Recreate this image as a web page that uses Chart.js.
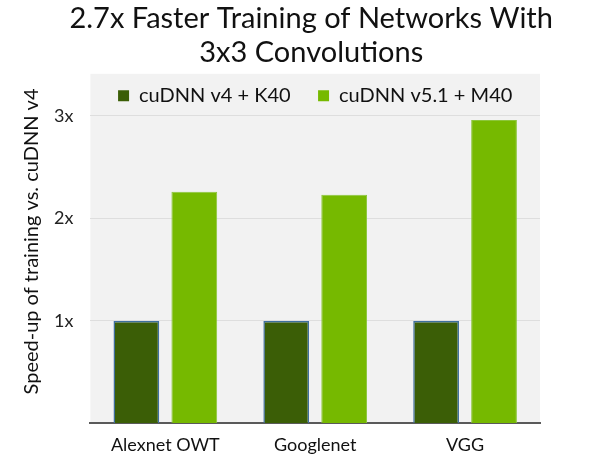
<!DOCTYPE html>
<html>
<head>
<meta charset="utf-8">
<script src="https://cdn.jsdelivr.net/npm/chart.js@4"></script>
<style>
  html, body { margin: 0; padding: 0; background: #fff; }
  #wrap { width: 600px; height: 464px; }
</style>
</head>
<body>
<div id="wrap"><canvas id="speedChart" width="600" height="464"></canvas></div>
<script>
const networks = ['Alexnet OWT', 'Googlenet', 'VGG'];
const cudnnV4K40 = [1, 1, 1];
const cudnnV51M40 = [2.26, 2.23, 2.96];
const yTicks = [0, 1, 2, 3];

const FONT = 'Lato, "DejaVu Sans", sans-serif';

// light grey panel behind the plot and legend
const panelBackground = {
    id: 'panelBackground',
    beforeDraw(chart) {
        const { ctx, chartArea, legend } = chart;
        ctx.save();
        ctx.fillStyle = '#f2f2f2';
        ctx.fillRect(chartArea.left, legend.top, chartArea.right - chartArea.left, chartArea.bottom - legend.top);
        ctx.restore();
    },
};

// centre title and legend over the plot area instead of the whole canvas
const centreOverPlot = {
    id: 'centreOverPlot',
    afterLayout(chart) {
        const { left, right } = chart.chartArea;
        const mid = (left + right) / 2;
        const place = (box, centre, half) => {
            if (!box) return;
            box.left = centre - half;
            box.right = centre + half;
            box.width = half * 2;
        };
        place(chart.titleBlock, mid - 4, 290);
        place(chart.legend, mid, (right - left) / 2);
    },
};

document.addEventListener('DOMContentLoaded', () => {
    const canvas = document.getElementById('speedChart');
    new Chart(canvas.getContext('2d'), {
        type: 'bar',
        data: {
            labels: networks,
            datasets: [{
                label: 'cuDNN v4 + K40',
                data: cudnnV4K40,
                backgroundColor: '#3b5e06',
                borderColor: '#3f6f9e',
                borderWidth: 1.5,
            }, {
                label: 'cuDNN v5.1 + M40',
                data: cudnnV51M40,
                backgroundColor: '#76b900',
                borderColor: '#8cc63a',
                borderWidth: 1,
            }],
        },
        options: {
            responsive: false,
            animation: false,
            devicePixelRatio: 1,
            layout: { padding: { left: 20, right: 60, top: 0, bottom: 5 } },
            datasets: {
                bar: { categoryPercentage: 0.773, barPercentage: 0.79 },
            },
            plugins: {
                title: {
                    display: true,
                    text: ['2.7x Faster Training of Networks With', '3x3 Convolutions'],
                    color: '#111',
                    font: { family: FONT, size: 29, weight: 'normal', lineHeight: 1.17 },
                    padding: { top: 2, bottom: 4 },
                },
                legend: {
                    position: 'top',
                    labels: {
                        color: '#111',
                        font: { family: FONT, size: 20 },
                        boxWidth: 11,
                        boxHeight: 11,
                        padding: 12,
                        generateLabels: chart => chart.data.datasets.map((ds, i, all) => ({
                            text: i < all.length - 1 ? ds.label + '   ' : ds.label,
                            fillStyle: ds.backgroundColor,
                            strokeStyle: ds.backgroundColor,
                            lineWidth: 0,
                            datasetIndex: i,
                            fontColor: '#111',
                        })),
                    },
                },
                tooltip: { enabled: false },
            },
            scales: {
                x: {
                    grid: { display: false },
                    border: { display: true, color: '#5a5a5a', width: 2 },
                    ticks: { color: '#111', font: { family: FONT, size: 18 }, padding: 3 },
                },
                y: {
                    min: 0,
                    max: 3,
                    afterBuildTicks: axis => { axis.ticks = yTicks.map(v => ({ value: v })); },
                    grid: {
                        color: ctx => ctx.tick && ctx.tick.value === 0 ? 'rgba(0,0,0,0)' : '#dedede',
                        lineWidth: 1,
                        drawTicks: false,
                    },
                    border: { display: false },
                    ticks: {
                        color: '#222',
                        font: { family: FONT, size: 18 },
                        padding: 17,
                        callback: v => (v === 0 ? '' : v + 'x'),
                    },
                    title: {
                        display: true,
                        text: '           Speed-up of training vs. cuDNN v4',
                        color: '#111',
                        font: { family: FONT, size: 20 },
                        padding: { top: 0, bottom: -7 },
                    },
                },
            },
        },
        plugins: [panelBackground, centreOverPlot],
    });
});
</script>
</body>
</html>
